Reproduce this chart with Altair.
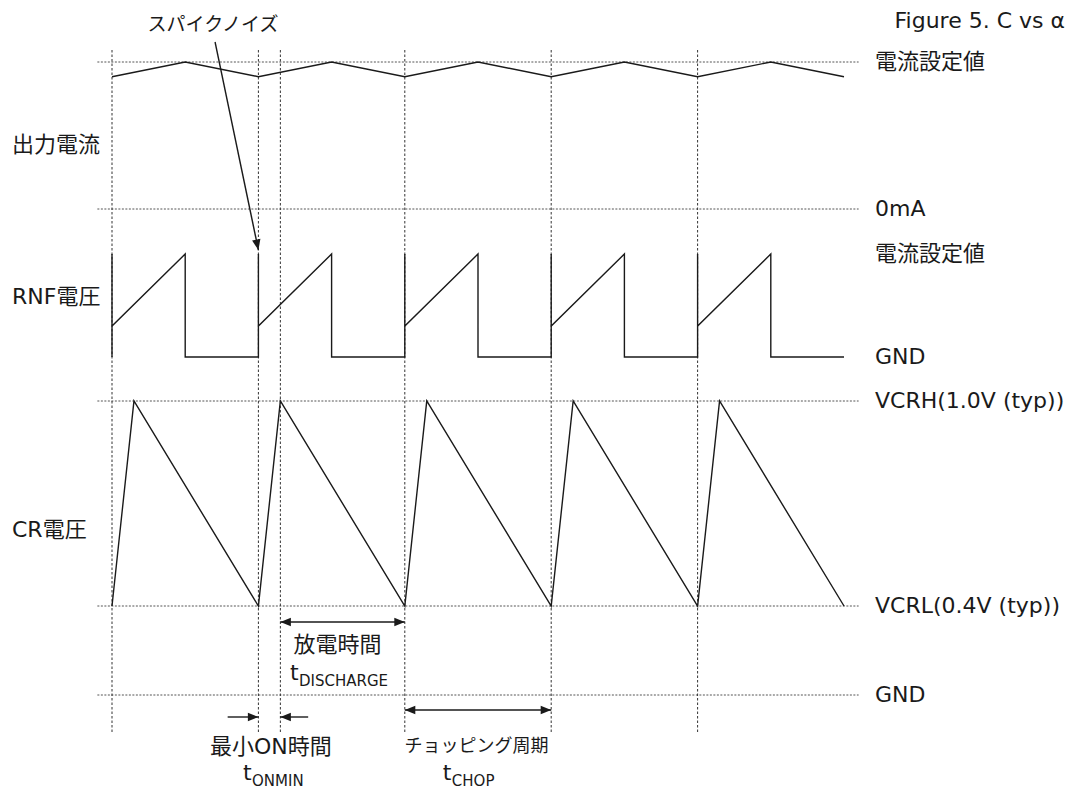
import math
import altair as alt
import pandas as pd

# ---------------- data (diagram values) ----------------
# time in chopping periods, levels normalised per trace
period_starts = [0, 1, 2, 3, 4]
t_on_min = 0.15

current_t = [0, 0.5, 1, 1.5, 2, 2.5, 3, 3.5, 4, 4.5, 5]
current_v = [0.9, 1.0, 0.9, 1.0, 0.9, 1.0, 0.9, 1.0, 0.9, 1.0, 0.9]

rnf_t = [0, 0, 0, 0.5, 0.5,
         1, 1, 1, 1.5, 1.5,
         2, 2, 2, 2.5, 2.5,
         3, 3, 3, 3.5, 3.5,
         4, 4, 4, 4.5, 4.5,
         5]
rnf_v = [0, 1, 0.3, 1, 0,
         0, 1, 0.3, 1, 0,
         0, 1, 0.3, 1, 0,
         0, 1, 0.3, 1, 0,
         0, 1, 0.3, 1, 0,
         0]

cr_t = [0, 0.15, 1, 1.15, 2, 2.15, 3, 3.15, 4, 4.15, 5]
cr_v = [0.4, 1.0, 0.4, 1.0, 0.4, 1.0, 0.4, 1.0, 0.4, 1.0, 0.4]  # volts
vcrl, vcrh = 0.4, 1.0

marker_t = [0, 1, 1.15, 2, 3, 4]

left_labels = ["出力電流", "RNF電圧", "CR電圧"]
right_labels = ["電流設定値", "0mA", "電流設定値", "GND",
                "VCRH(1.0V (typ))", "VCRL(0.4V (typ))", "GND"]
title_text = "Figure 5. C vs α"
spike_text = "スパイクノイズ"

# ---------------- layout ----------------
W, H = 1059, 782
PX_X = 146.4   # px per period
PX_Y = 8.0     # px per vertical unit
X_DOMAIN = [-104 / PX_X, -104 / PX_X + W / PX_X]
Y_DOMAIN = [100 - H / PX_Y, 100]

OUT_BASE, OUT_AMP = 74.875, 18.375
RNF_BASE, RNF_AMP = 56.375, 12.875
CR_LO, CR_HI = 25.25, 50.875
GND_Y = 14.125
LINE_X0, LINE_X1 = -0.1, 5.1
VLINE_Y0, VLINE_Y1 = 9.5, 95.0
LABEL_X_RIGHT = 5.212
LABEL_X_LEFT = -0.683
TITLE_X = (1065 - 112) / PX_X


def cr_y(v):
    return CR_LO + (v - vcrl) * (CR_HI - CR_LO) / (vcrh - vcrl)


FONT = "DejaVu Sans, Noto Sans CJK JP, sans-serif"
INK = "#1a1a1a"

xs = alt.Scale(domain=X_DOMAIN, nice=False, zero=False)
ys = alt.Scale(domain=Y_DOMAIN, nice=False, zero=False)


def X(f):
    return alt.X(f, type="quantitative", scale=xs, axis=None)


def Y(f):
    return alt.Y(f, type="quantitative", scale=ys, axis=None)


# waveforms
rows = []
for i, (t, v) in enumerate(zip(current_t, current_v)):
    rows.append({"trace": "out", "i": i, "t": t, "y": OUT_BASE + v * OUT_AMP})
for i, (t, v) in enumerate(zip(rnf_t, rnf_v)):
    rows.append({"trace": "rnf", "i": i, "t": t, "y": RNF_BASE + v * RNF_AMP})
for i, (t, v) in enumerate(zip(cr_t, cr_v)):
    rows.append({"trace": "cr", "i": i, "t": t, "y": cr_y(v)})
wave_df = pd.DataFrame(rows)

waves = alt.Chart(wave_df).mark_line(color=INK, strokeWidth=1.4).encode(
    x=X("t"), y=Y("y"), detail="trace:N", order="i:Q"
)

# horizontal dotted reference levels
h_levels = [OUT_BASE + OUT_AMP, OUT_BASE, CR_HI, CR_LO, GND_Y]
hdf = pd.DataFrame({"x0": LINE_X0, "x1": LINE_X1, "y": h_levels})
hlines = alt.Chart(hdf).mark_rule(color="#555", strokeWidth=1, strokeDash=[2, 1.5]).encode(
    x=X("x0"), x2=alt.X2("x1"), y=Y("y")
)

# vertical dotted time markers
vdf = pd.DataFrame({"t": marker_t, "y0": VLINE_Y0, "y1": VLINE_Y1})
vlines = alt.Chart(vdf).mark_rule(color="#333", strokeWidth=1, strokeDash=[2.5, 2]).encode(
    x=X("t"), y=Y("y0"), y2=alt.Y2("y1")
)

# arrows: (x0, y0, x1, y1, head_at_start, head_at_end)
arrows = [
    (0.704, 95.75, 1.0, RNF_BASE + RNF_AMP + 0.5, False, True),   # spike noise
    (1.15, 23.25, 2.0, 23.25, True, True),                         # discharge
    (0.79, 11.375, 1.0, 11.375, False, True),                      # min on (left)
    (1.34, 11.375, 1.15, 11.375, False, True),                     # min on (right)
    (2.0, 12.25, 3.0, 12.25, True, True),                          # chop period
]
adf = pd.DataFrame([{"x0": a[0], "y0": a[1], "x1": a[2], "y1": a[3]} for a in arrows])
shafts = alt.Chart(adf).mark_rule(color=INK, strokeWidth=1.4).encode(
    x=X("x0"), y=Y("y0"), x2=alt.X2("x1"), y2=alt.Y2("y1")
)
heads = []
for x0, y0, x1, y1, hs, he in arrows:
    dxp = (x1 - x0) * PX_X
    dyp = -(y1 - y0) * PX_Y
    ang = math.degrees(math.atan2(dyp, dxp)) % 360
    if he:
        heads.append({"x": x1, "y": y1, "ang": ang})
    if hs:
        heads.append({"x": x0, "y": y0, "ang": (ang + 180) % 360})
hdf2 = pd.DataFrame(heads)
arrowheads = alt.Chart(hdf2).mark_point(
    shape="M0,0L-2.1,-0.85L-2.1,0.85Z", filled=True, color=INK, opacity=1, size=100
).encode(x=X("x"), y=Y("y"), angle=alt.Angle("ang:Q", scale=None))

# texts
right_y = [OUT_BASE + OUT_AMP, OUT_BASE, RNF_BASE + RNF_AMP, RNF_BASE, CR_HI, CR_LO, GND_Y]
rdf = pd.DataFrame({"x": LABEL_X_RIGHT, "y": right_y, "label": right_labels})
right_txt = alt.Chart(rdf).mark_text(align="left", baseline="middle", font=FONT,
                                     fontSize=22, color=INK).encode(
    x=X("x"), y=Y("y"), text="label:N")

left_y = [82.9, 63.9, 34.75]
ldf = pd.DataFrame({"x": LABEL_X_LEFT, "y": left_y, "label": left_labels})
left_txt = alt.Chart(ldf).mark_text(align="left", baseline="middle", font=FONT,
                                    fontSize=22, color=INK).encode(
    x=X("x"), y=Y("y"), text="label:N")

title_df = pd.DataFrame({"x": [TITLE_X], "y": [98.4], "label": [title_text]})
title_txt = alt.Chart(title_df).mark_text(align="right", baseline="middle", font=FONT,
                                          fontSize=22, color=INK).encode(
    x=X("x"), y=Y("y"), text="label:N")

cdf = pd.DataFrame({
    "x": [0.69, 1.54, 1.085, 2.49],
    "y": [97.9, 20.4, 7.6, 7.6],
    "label": [spike_text, "放電時間", "最小ON時間", "チョッピング周期"],
    "fs": [19, 22, 22, 18],
})
center_txt = alt.Chart(cdf).mark_text(align="center", baseline="middle", font=FONT,
                                      color=INK).encode(
    x=X("x"), y=Y("y"), text="label:N", size=alt.Size("fs:Q", scale=None))

sym_df = pd.DataFrame({"x": [1.216, 0.895, 2.26], "y": [16.0, 3.5, 3.5], "label": ["t", "t", "t"]})
t_txt = alt.Chart(sym_df).mark_text(align="left", baseline="alphabetic", font=FONT,
                                    fontSize=22, color=INK).encode(
    x=X("x"), y=Y("y"), text="label:N")
sub_df = pd.DataFrame({"x": [1.216, 0.895, 2.26], "y": [15.25, 2.8, 2.8],
                       "label": ["DISCHARGE", "ONMIN", "CHOP"]})
sub_txt = alt.Chart(sub_df).mark_text(align="left", baseline="alphabetic", font=FONT,
                                      fontSize=15, color=INK, dx=9).encode(
    x=X("x"), y=Y("y"), text="label:N")

chart = alt.layer(
    hlines, vlines, waves, shafts, arrowheads,
    right_txt, left_txt, title_txt, center_txt, t_txt, sub_txt
).properties(
    width=W, height=H, padding=0, background="white",
    autosize=alt.AutoSizeParams(type="none")
).configure_view(stroke=None)

chart.save("out.html", embed_options={"renderer": "svg", "actions": False})
